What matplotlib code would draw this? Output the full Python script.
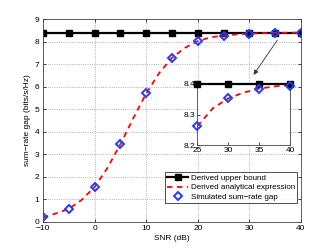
import numpy as np
import matplotlib
matplotlib.use('Agg')
import matplotlib.pyplot as plt

plt.rcParams['font.family'] = ['Liberation Sans', 'DejaVu Sans']

# SNR points (dB)
snr = [-10, -5, 0, 5, 10, 15, 20, 25, 30, 35, 40]
# Derived upper bound
upper_bound = [8.40] * len(snr)
# Derived analytical expression (read at 2.5 dB steps)
snr_fine = [-10, -7.5, -5, -2.5, 0, 2.5, 5, 7.5, 10, 12.5, 15, 17.5, 20, 22.5,
            25, 27.5, 30, 32.5, 35, 37.5, 40]
analytic = [0.20, 0.38, 0.58, 0.98, 1.55, 2.40, 3.45, 4.60, 5.70, 6.60, 7.28,
            7.72, 8.02, 8.19, 8.262, 8.32, 8.353, 8.372, 8.385, 8.392, 8.397]
# Simulated sum-rate gap
simulated = [0.22, 0.56, 1.55, 3.45, 5.70, 7.28, 8.01, 8.262, 8.353, 8.384, 8.395]

fig = plt.figure(figsize=(3.32, 2.5), dpi=100)
ax = fig.add_axes([43 / 332, 1 - 222 / 250, 258 / 332, 203 / 250])

ax.plot(snr, upper_bound, color='black', lw=1.6, marker='s', ms=3.8,
        mfc='black', mec='black', label='Derived upper bound')
ax.plot(snr_fine, analytic, color='red', lw=1.3, ls=(0, (3, 2.5)),
        label='Derived analytical expression')
ax.plot(snr, simulated, ls='none', marker='D', ms=4.2, mfc='none',
        mec='#1f3cff', mew=1.4, label='Simulated sum\u2212rate gap')

ax.set_xlim(-10, 40)
ax.set_ylim(0, 9)
ax.set_xticks([-10, 0, 10, 20, 30, 40])
ax.set_xticklabels(['\u221210', '0', '10', '20', '30', '40'])
ax.set_yticks(range(10))
ax.grid(True, ls=':', color='#9a9a9a', lw=0.6)
ax.tick_params(direction='in', labelsize=6, length=2.5, width=0.5, pad=2.5,
               top=True, right=True)
for s in ax.spines.values():
    s.set_linewidth(0.6)
    s.set_color('#444444')
ax.set_xlabel('SNR (dB)', fontsize=6, labelpad=2)
ax.set_ylabel('sum\u2212rate gap (bits/s/Hz)', fontsize=6, labelpad=3)

leg = ax.legend(loc='lower right', fontsize=5.8, frameon=True, fancybox=False,
                edgecolor='black', handlelength=2.6, borderpad=0.25,
                labelspacing=0.25, handletextpad=0.3, numpoints=1,
                borderaxespad=0, bbox_to_anchor=(297 / 332, 1 - 203 / 250),
                bbox_transform=fig.transFigure)
leg.get_frame().set_linewidth(0.6)

ax.annotate('', xy=(30.5, 6.42), xytext=(35.7, 8.16),
            arrowprops=dict(arrowstyle='-|>', color='#333333', lw=0.6,
                            mutation_scale=7))

# inset zoom
zs = [x for x in snr if x >= 25]
zub = upper_bound[-len(zs):]
zsim = simulated[-len(zs):]
zf = [x for x in snr_fine if x >= 25]
zan = analytic[-len(zf):]
axi = fig.add_axes([197.3 / 332, 1 - 145 / 250, 93 / 332, 61 / 250])
axi.plot(zs, zub, color='black', lw=1.6, marker='s', ms=3.8,
         mfc='black', mec='black', clip_on=False, zorder=3)
axi.plot(zf, zan, color='red', lw=1.3, ls=(0, (3, 2.5)))
axi.plot(zs, zsim, ls='none', marker='D', ms=4.2, mfc='none',
         mec='#1f3cff', mew=1.4, clip_on=False, zorder=4)
axi.set_xlim(25, 40)
axi.set_ylim(8.2, 8.4)
axi.set_xticks([25, 30, 35, 40])
axi.set_yticks([8.2, 8.3, 8.4])
axi.tick_params(direction='in', labelsize=6, length=2, width=0.5, pad=1.5)
for s in axi.spines.values():
    s.set_linewidth(0.6)
    s.set_color('#444444')

fig.savefig('out.png', dpi=100)
